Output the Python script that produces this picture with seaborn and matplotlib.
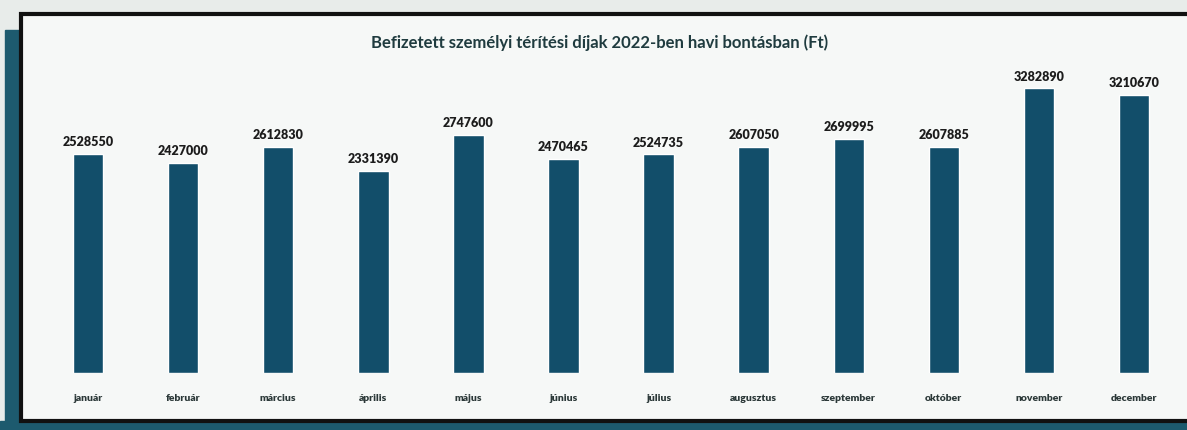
import matplotlib
matplotlib.use("Agg")
import matplotlib.pyplot as plt
import seaborn as sns
import pandas as pd
from matplotlib.patches import Rectangle

# monthly data (Ft)
months = ["január", "február", "március", "április", "május", "június",
          "július", "augusztus", "szeptember", "október", "november", "december"]
paid = [2528550, 2427000, 2612830, 2331390, 2747600, 2470465,
        2524735, 2607050, 2699995, 2607885, 3282890, 3210670]

title = "Befizetett személyi térítési díjak 2022-ben havi bontásban (Ft)"

df = pd.DataFrame({"honap": months, "osszeg": paid})

sns.set_style("white")
plt.rcParams["font.family"] = ["Lato", "DejaVu Sans"]

fig = plt.figure(figsize=(11.87, 4.30), dpi=100)
fig.patch.set_facecolor("#e8ecea")

# scanned page look: teal shadow + black frame (behind the axes)
fig.patches.append(Rectangle((0.004, 0.0), 0.016, 0.93, transform=fig.transFigure,
                             color="#1d5a6e", zorder=-3))
fig.patches.append(Rectangle((0.0, 0.0), 1.0, 0.02, transform=fig.transFigure,
                             color="#1d5a6e", zorder=-3))
fig.patches.append(Rectangle((0.018, 0.022), 0.99, 0.945, transform=fig.transFigure,
                             facecolor="#f6f8f7", edgecolor="#111111", linewidth=3,
                             zorder=-2))

ax = fig.add_axes([0.0341, 0.1326, 0.9613, 0.7256])
ax.set_facecolor("none")
sns.barplot(data=df, x="honap", y="osszeg", color="#124e6a", saturation=1,
            width=0.32, ax=ax)

for i, v in enumerate(paid):
    ax.annotate(str(v), (i, v), xytext=(0, 4), textcoords="offset points",
                ha="center", va="bottom", fontsize=9, fontweight="heavy",
                color="#1c1c1c")

ax.set_ylim(0, 3.6e6)
ax.set_xlim(-0.5, 11.5)
ax.set_xlabel("")
ax.set_ylabel("")
ax.set_yticks([])
ax.tick_params(axis="x", length=0, pad=15, labelsize=7.5, labelcolor="#2b3838")
for lbl in ax.get_xticklabels():
    lbl.set_fontweight("heavy")
sns.despine(ax=ax, left=True, bottom=True)

fig.text(0.505, 0.9, title, ha="center", va="center", fontsize=12,
         fontweight="bold", color="#1f3b3f")

fig.savefig("out.png", dpi=100, facecolor=fig.get_facecolor())
